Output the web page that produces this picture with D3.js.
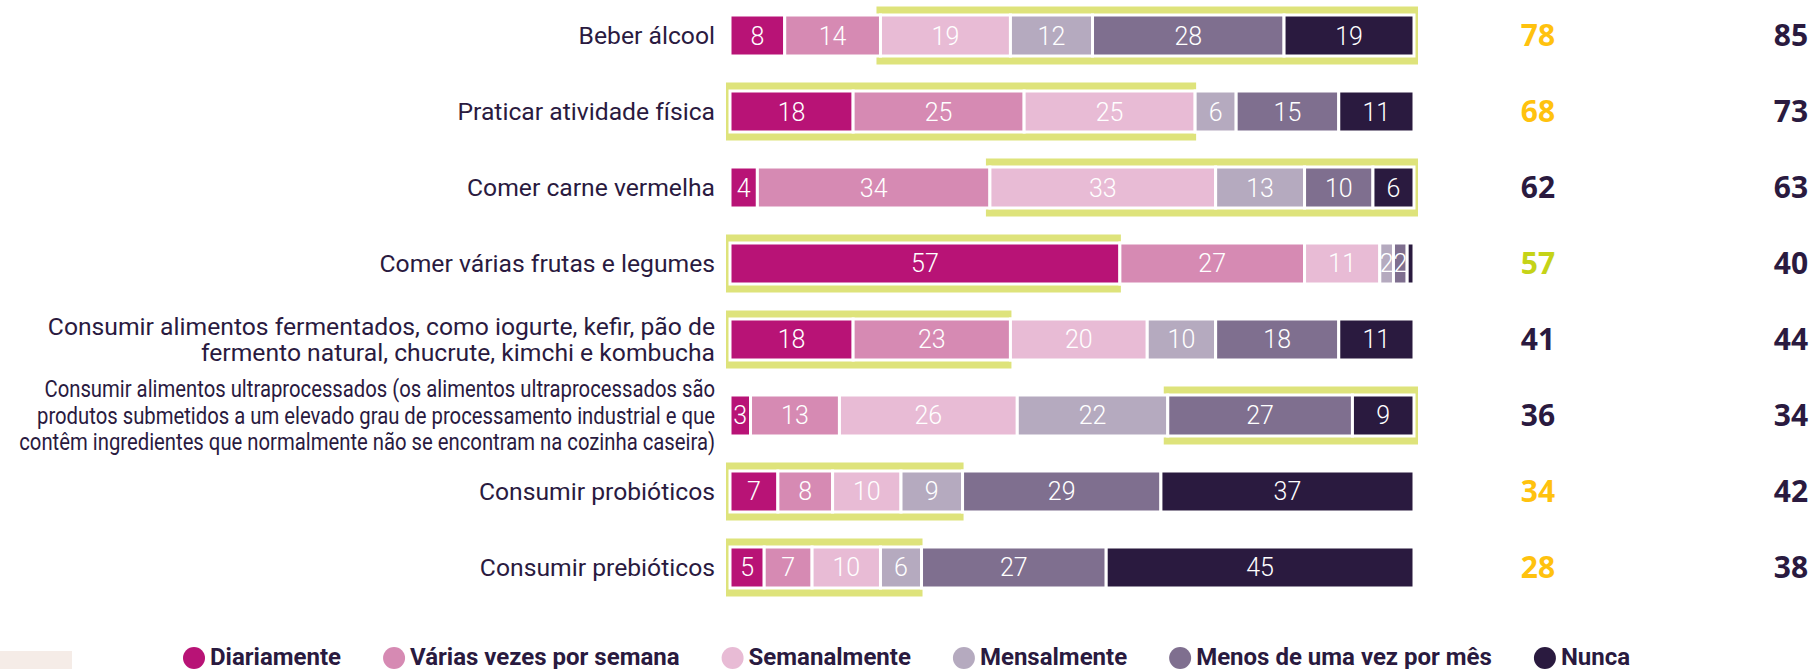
<!DOCTYPE html>
<html>
<head>
<meta charset="utf-8">
<script src="https://cdn.jsdelivr.net/npm/d3@7"></script>
<style>
  body { margin: 0; background: #fff; }
  svg { display: block; }
</style>
</head>
<body>
<div id="viz"></div>
<script>
/*** data ***/
const categorias = [
  ["Beber álcool"],
  ["Praticar atividade física"],
  ["Comer carne vermelha"],
  ["Comer várias frutas e legumes"],
  ["Consumir alimentos fermentados, como iogurte, kefir, pão de", "fermento natural, chucrute, kimchi e kombucha"],
  ["Consumir alimentos ultraprocessados (os alimentos ultraprocessados são", "produtos submetidos a um elevado grau de processamento industrial e que", "contêm ingredientes que normalmente não se encontram na cozinha caseira)"],
  ["Consumir probióticos"],
  ["Consumir prebióticos"]
];
const frequencias = ["Diariamente", "Várias vezes por semana", "Semanalmente", "Mensalmente", "Menos de uma vez por mês", "Nunca"];
const diariamente   = [8, 18, 4, 57, 18, 3, 7, 5];
const variasVezes   = [14, 25, 34, 27, 23, 13, 8, 7];
const semanalmente  = [19, 25, 33, 11, 20, 26, 10, 10];
const mensalmente   = [12, 6, 13, 2, 10, 22, 9, 6];
const menosDeUma    = [28, 15, 10, 2, 18, 27, 29, 27];
const nunca         = [19, 11, 6, 1, 11, 9, 37, 45];
// first and last highlighted frequency per row
const destaqueInicio = [2, 0, 2, 0, 0, 4, 0, 0];
const destaqueFim    = [5, 2, 5, 0, 1, 5, 3, 3];
const totalA = [78, 68, 62, 57, 41, 36, 34, 28];
const totalB = [85, 73, 63, 40, 44, 34, 42, 38];
const corTotalA = ["laranja", "laranja", "escuro", "verde", "escuro", "escuro", "laranja", "laranja"];

/*** setup ***/
const width = 1814, height = 669;
const cores = ["#b81376", "#d68ab3", "#e8bbd5", "#b5aabf", "#7f6f8f", "#2a1a3f"];
const escuro = "#2a1a3f";
const corTexto = { laranja: "#ffc20e", escuro: escuro, verde: "#c5d317" };
const series = [diariamente, variasVezes, semanalmente, mensalmente, menosDeUma, nunca];

const rows = categorias.map((c, i) => {
  let acc = 0;
  const segs = series.map((s, k) => {
    const d = { k, v: s[i], x0: acc, x1: acc + s[i] };
    acc += s[i];
    return d;
  });
  return { i, label: c, segs };
});

const x = d3.scaleLinear().domain([0, 100]).range([730, 1414]);
const y = d3.scaleBand().domain(d3.range(categorias.length)).range([-2.5, 605.5])
  .paddingInner(0.4605).paddingOuter(0.2303);
const color = d3.scaleOrdinal().domain(d3.range(6)).range(cores);

const svg = d3.select("#viz").append("svg")
  .attr("width", width).attr("height", height)
  .attr("viewBox", [0, 0, width, height]);

// small beige box at bottom left
svg.append("rect")
  .attr("x", 0).attr("y", 651).attr("width", 72).attr("height", 18)
  .attr("fill", "#f5ece7");

const row = svg.append("g").selectAll("g")
  .data(rows)
  .join("g")
  .attr("transform", d => `translate(0,${y(d.i)})`);

// highlight frame
row.append("rect")
  .attr("x", d => x(d.segs[destaqueInicio[d.i]].x0) - 4)
  .attr("width", d => {
    const a = d.segs[destaqueInicio[d.i]].x0, b = d.segs[destaqueFim[d.i]].x1;
    return x(b) - x(a) + 4 + (b >= 100 ? 4 : 1);
  })
  .attr("y", -8.5)
  .attr("height", y.bandwidth() + 17)
  .attr("fill", "#dee37b");

row.selectAll("rect.seg")
  .data(d => d.segs)
  .join("rect")
  .attr("class", "seg")
  .attr("x", d => x(d.x0))
  .attr("width", d => x(d.x1) - x(d.x0))
  .attr("y", 0)
  .attr("height", y.bandwidth())
  .attr("fill", d => color(d.k))
  .attr("stroke", "#fff")
  .attr("stroke-width", 3);

row.selectAll("text.val")
  .data(d => d.segs.filter(s => s.v >= 2))
  .join("text")
  .attr("class", "val")
  .attr("x", d => x((d.x0 + d.x1) / 2))
  .attr("y", y.bandwidth() / 2)
  .attr("dy", "0.36em")
  .attr("text-anchor", "middle")
  .attr("fill", "#fff")
  .style("font-family", "Roboto, sans-serif")
  .style("font-weight", 300)
  .style("font-size", "25px")
  .text(d => d.v);

// category labels
row.each(function(d) {
  const g = d3.select(this);
  const n = d.label.length;
  const narrow = n > 2;
  const lh = narrow ? 26.5 : 25.5;
  const t = g.append("text")
    .attr("transform", `translate(715,${y.bandwidth() / 2}) scale(${narrow ? 0.845 : 1},1)`)
    .attr("text-anchor", "end")
    .attr("fill", escuro)
    .style("font-family", "Roboto, sans-serif")
    .style("font-size", narrow ? "24px" : "24.7px");
  d.label.forEach((l, j) => {
    t.append("tspan")
      .attr("x", 0)
      .attr("y", (j - (n - 1) / 2) * lh)
      .attr("dy", "0.35em")
      .text(l);
  });
});

// totals
row.append("text")
  .attr("x", 1538)
  .attr("y", y.bandwidth() / 2)
  .attr("dy", "0.36em")
  .attr("text-anchor", "middle")
  .attr("fill", d => corTexto[corTotalA[d.i]])
  .style("font-family", "'Open Sans', sans-serif")
  .style("font-weight", 700)
  .style("font-size", "30px")
  .text(d => totalA[d.i]);

row.append("text")
  .attr("x", 1791)
  .attr("y", y.bandwidth() / 2)
  .attr("dy", "0.36em")
  .attr("text-anchor", "middle")
  .attr("fill", escuro)
  .style("font-family", "'Open Sans', sans-serif")
  .style("font-weight", 700)
  .style("font-size", "30px")
  .text(d => totalB[d.i]);

// legend
const legend = svg.append("g").attr("transform", "translate(0,665)");
let lx = 194;
frequencias.forEach((f, k) => {
  const item = legend.append("g").attr("transform", `translate(${lx},0)`);
  item.append("circle")
    .attr("cx", 0).attr("cy", -7).attr("r", 11)
    .attr("fill", color(k));
  const t = item.append("text")
    .attr("x", 16)
    .attr("fill", escuro)
    .style("font-family", "Roboto, sans-serif")
    .style("font-weight", 700)
    .style("font-size", "24px")
    .text(f);
  lx += 16 + t.node().getComputedTextLength() + 53;
});
</script>
</body>
</html>
